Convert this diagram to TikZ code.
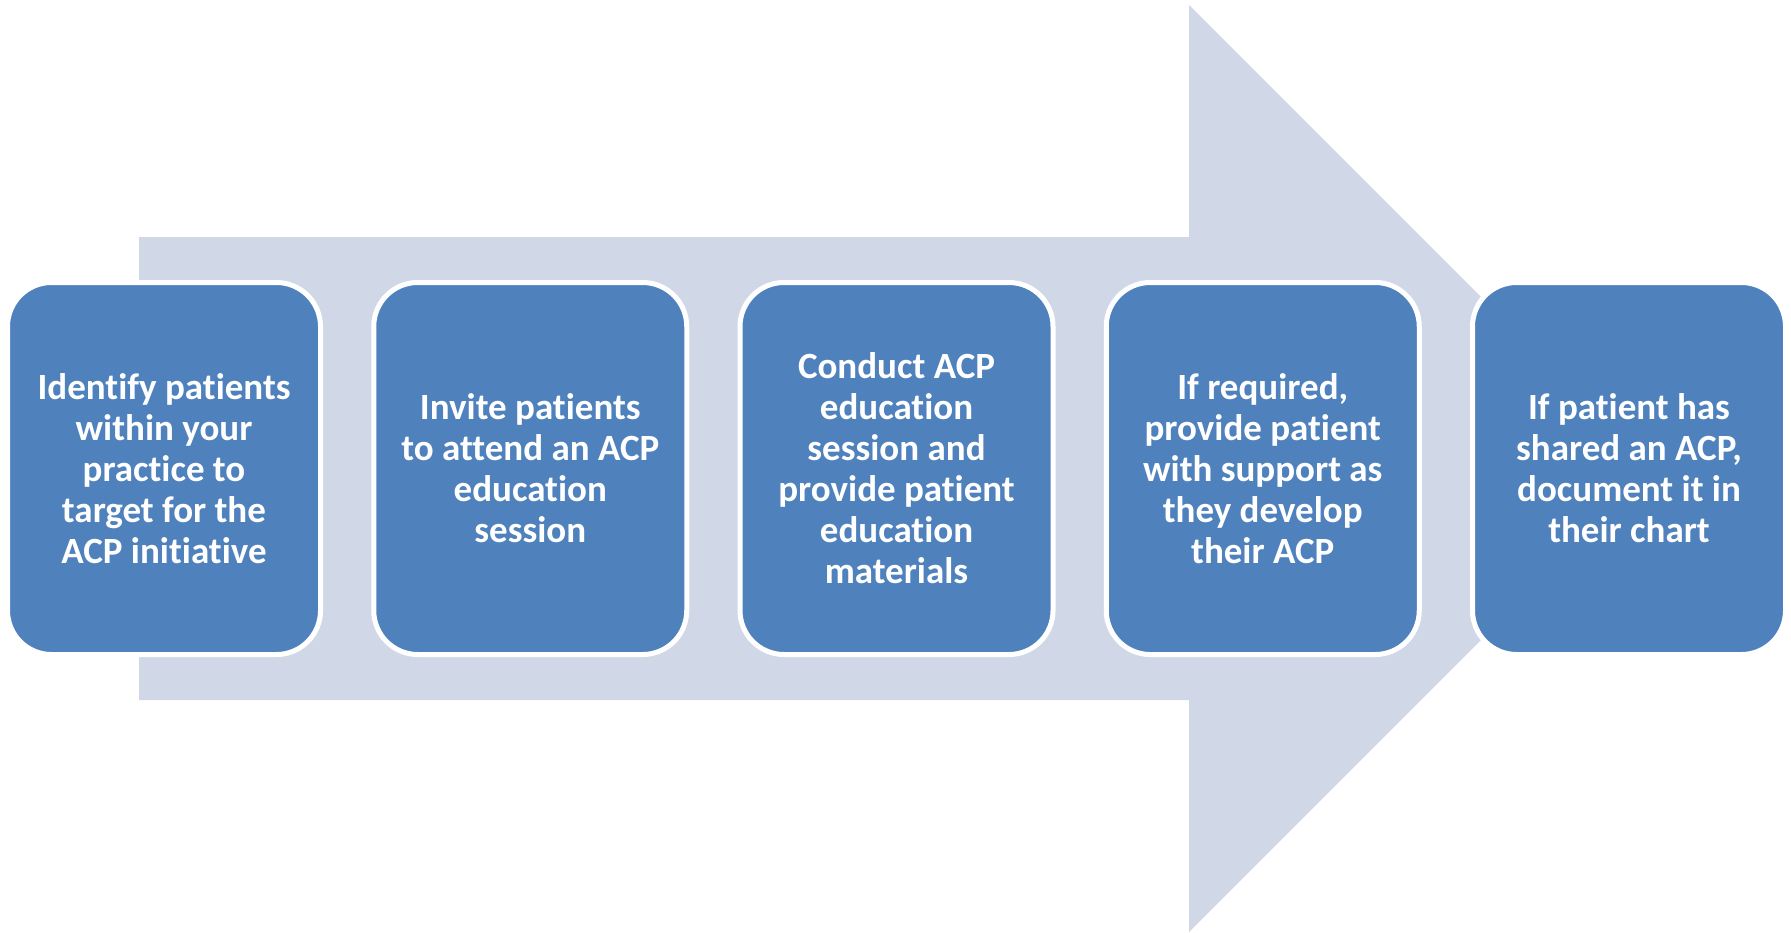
\documentclass[tikz,border=0pt]{standalone}
\usepackage{fontspec}
\setmainfont{Carlito}[Ligatures=NoCommon]
\definecolor{arrowfill}{HTML}{D0D8E8}
\definecolor{boxfill}{HTML}{4F81BD}
\begin{document}
\begin{tikzpicture}[x=1pt,y=-1pt,
  stepbox/.style={rectangle, rounded corners=44pt, fill=boxfill, draw=white,
    line width=5pt, minimum width=313pt, minimum height=372pt, inner sep=0pt,
    text=white, align=center, font=\fontsize{37}{41}\selectfont\bfseries}]
\useasboundingbox (0,0) rectangle (1791,932);
% big background arrow
\fill[arrowfill] (139,237) -- (1189,237) -- (1189,5) -- (1652.5,468.5)
  -- (1189,932) -- (1189,700) -- (139,700) -- cycle;
% process steps
\node[stepbox] (s1) at (164,468.5) {Identify patients\\within your\\practice to\\target for the\\ACP initiative};
\node[stepbox] (s2) at (530.25,468.5) {Invite patients\\to attend an ACP\\education\\session};
\node[stepbox] (s3) at (896.5,468.5) {Conduct ACP\\education\\session and\\provide patient\\education\\materials};
\node[stepbox] (s4) at (1262.75,468.5) {If required,\\provide patient\\with support as\\they develop\\their ACP};
\node[stepbox] (s5) at (1629,468.5) {If patient has\\shared an ACP,\\document it in\\their chart};
\end{tikzpicture}
\end{document}
